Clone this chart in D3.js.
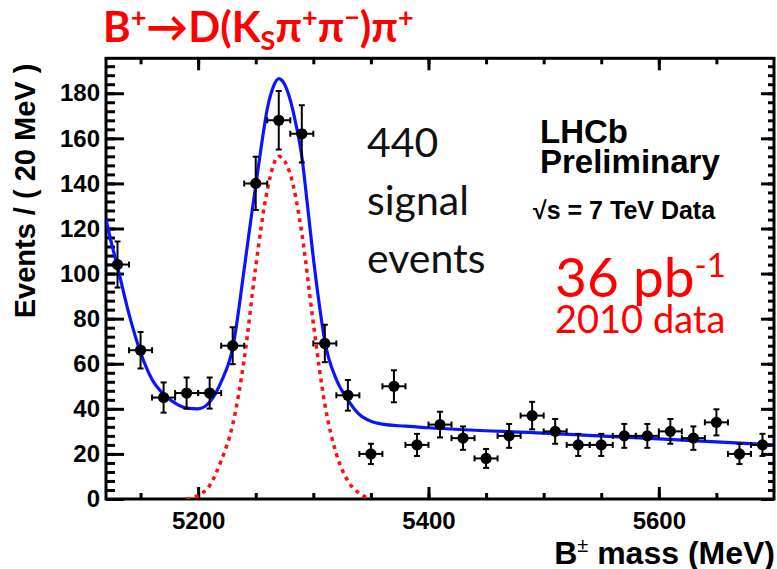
<!DOCTYPE html>
<html>
<head>
<meta charset="utf-8">
<script src="https://cdn.jsdelivr.net/npm/d3@7"></script>
<style>
  body { margin: 0; background: #fff; }
  svg { display: block; }
</style>
</head>
<body>
<script>
// B+ -> D(Ks pi pi) pi mass fit
var massBins = [5130, 5150, 5170, 5190, 5210, 5230, 5250, 5270, 5290, 5310,
                5330, 5350, 5370, 5390, 5410, 5430, 5450, 5470, 5490, 5510,
                5530, 5550, 5570, 5590, 5610, 5630, 5650, 5670, 5690]
var events = [104, 66, 45, 47, 47, 68, 140, 168, 162, 69,
              46, 20, 50, 24, 33, 27, 18, 28, 37, 30,
              24, 24, 28, 28, 30, 27, 34, 20, 24]
var errors = [10.2, 8.1, 6.7, 6.9, 6.9, 8.2, 11.8, 13, 12.7, 8.3,
              6.8, 4.5, 7.1, 4.9, 5.7, 5.2, 4.2, 5.3, 6.1, 5.5,
              4.9, 4.9, 5.3, 5.3, 5.5, 5.2, 5.8, 4.5, 4.9]

// total fit (blue)
var fitMass = [5120, 5125, 5130, 5140, 5150, 5160, 5170, 5180, 5190, 5200,
               5210, 5220, 5230, 5240, 5245, 5250, 5255, 5260, 5265, 5270,
               5275, 5280, 5285, 5290, 5295, 5300, 5305, 5310, 5320, 5330,
               5340, 5350, 5360, 5380, 5400, 5500, 5600, 5700]
var fitTotal = [124, 113, 103, 82, 65, 53, 46.5, 42.5, 40.3, 40,
                43, 52, 67, 102, 121, 139, 157, 173, 182.5, 186.5,
                184, 177, 166, 152, 130, 107, 87, 70, 53, 44,
                37.5, 34.5, 33.2, 32.3, 31.6, 29.2, 26.7, 24]

// signal component (red dotted)
var sigMass = [5190, 5200, 5210, 5220, 5230, 5240, 5250, 5260, 5270, 5280,
               5290, 5300, 5310, 5320, 5330, 5340, 5350]
var sigEvents = [0, 1.5, 6, 17, 33, 62, 103, 137, 152, 144,
                 118, 78, 42, 20, 8, 2.5, 0]

var xTicks = [5200, 5400, 5600]
var yTicks = [0, 20, 40, 60, 80, 100, 120, 140, 160, 180]

var W = 777, H = 569
var pL = 106, pR = 774, pT = 58.3, pB = 499

var x = d3.scaleLinear().domain([5120, 5700]).range([pL, pR])
var y = d3.scaleLinear().domain([0, 195.5]).range([pB, pT])

var xMinor = d3.range(5150, 5700, 50)
var yMinor = d3.range(0, 196, 4)

var svg = d3.select('body').append('svg')
  .attr('width', W).attr('height', H)

var helv = '"Liberation Sans", Arial, sans-serif'
var cal = 'Lato, "Open Sans", sans-serif'

svg.append('clipPath').attr('id', 'plot')
  .append('rect')
  .attr('x', pL).attr('y', pT)
  .attr('width', pR - pL).attr('height', pB - pT)

// axes, ticks pointing inward
function styleAxis(g) {
  g.select('.domain').remove()
  g.selectAll('.tick line').attr('stroke', '#000').attr('stroke-width', 3)
  g.selectAll('.tick text')
    .attr('fill', '#000')
    .style('font-family', helv)
    .style('font-weight', 'bold')
    .style('font-size', '24px')
}

function axis(gen, tr, vals, size, fmt, pad) {
  var a = gen.tickValues(vals).tickSize(-size).tickPadding(pad || 3)
  a.tickFormat(fmt ? d3.format('d') : '')
  svg.append('g').attr('transform', tr).call(a).call(styleAxis)
}

axis(d3.axisLeft(y), 'translate(' + pL + ',0)', yMinor, 9)
axis(d3.axisLeft(y), 'translate(' + pL + ',0)', yTicks, 18, true, 6)
axis(d3.axisRight(y), 'translate(' + pR + ',0)', yMinor, 6)
axis(d3.axisRight(y), 'translate(' + pR + ',0)', yTicks, 13)
axis(d3.axisTop(x), 'translate(0,' + pT + ')', xMinor, 6)
axis(d3.axisTop(x), 'translate(0,' + pT + ')', xTicks, 12)
axis(d3.axisBottom(x), 'translate(0,' + pB + ')', xMinor, 6)
axis(d3.axisBottom(x), 'translate(0,' + pB + ')', xTicks, 12, true, 13)

svg.append('rect')
  .attr('x', pL).attr('y', pT)
  .attr('width', pR - pL).attr('height', pB - pT)
  .attr('fill', 'none').attr('stroke', '#000').attr('stroke-width', 3)

// curves
var plot = svg.append('g').attr('clip-path', 'url(#plot)')

var line = d3.line()
  .x(function(d) { return x(d[0]) })
  .y(function(d) { return y(d[1]) })
  .curve(d3.curveMonotoneX)

plot.append('path')
  .datum(d3.zip(sigMass, sigEvents))
  .attr('d', line)
  .attr('fill', 'none')
  .attr('stroke', '#ff1010')
  .attr('stroke-width', 3.5)
  .attr('stroke-dasharray', '4,4.5')

plot.append('path')
  .datum(d3.zip(fitMass, fitTotal))
  .attr('d', line)
  .attr('fill', 'none')
  .attr('stroke', '#0a14ff')
  .attr('stroke-width', 3.2)

// data points with errors
var pts = plot.selectAll('g.pt')
  .data(d3.zip(massBins, events, errors))
  .enter().append('g').attr('class', 'pt')

pts.each(function(d) {
  var g = d3.select(this)
  var cx = x(d[0]), cy = y(d[1])
  var x0 = x(d[0] - 10), x1 = x(d[0] + 10)
  var y0 = y(d[1] - d[2]), y1 = y(d[1] + d[2])
  var segs = [
    [x0, cy, x1, cy], [cx, y0, cx, y1],
    [x0, cy - 3, x0, cy + 3], [x1, cy - 3, x1, cy + 3],
    [cx - 3, y0, cx + 3, y0], [cx - 3, y1, cx + 3, y1]
  ]
  segs.forEach(function(s) {
    g.append('line')
      .attr('x1', s[0]).attr('y1', s[1]).attr('x2', s[2]).attr('y2', s[3])
      .attr('stroke', '#000').attr('stroke-width', 2)
  })
  g.append('circle').attr('cx', cx).attr('cy', cy).attr('r', 5.6).attr('fill', '#000')
})

// axis titles
svg.append('text')
  .attr('transform', 'translate(35,191) rotate(-90)')
  .attr('text-anchor', 'middle')
  .style('font-family', helv).style('font-weight', 'bold').style('font-size', '29px')
  .text('Events / ( 20 MeV )')

var xl = svg.append('text')
  .attr('x', 775).attr('y', 564)
  .attr('text-anchor', 'end')
  .style('font-family', helv).style('font-weight', 'bold').style('font-size', '32px')
xl.append('tspan').text('B')
xl.append('tspan').attr('dy', -12).style('font-size', '20px').style('font-weight', 'normal').text('\u00b1')
xl.append('tspan').attr('dy', 12).text(' mass  (MeV)')

// title
var t = svg.append('text')
  .attr('x', 103).attr('y', 42)
  .attr('fill', '#ff0000')
  .style('font-family', cal).style('font-weight', 'bold').style('font-size', '42px')
t.append('tspan').text('B')
t.append('tspan').attr('dy', -15).style('font-size', '27px').text('+')
t.append('tspan').attr('dy', 15).text('\u2192D(K')
t.append('tspan').attr('dy', 8).style('font-size', '27px').text('S')
t.append('tspan').attr('dy', -8).text('\u03c0')
t.append('tspan').attr('dy', -15).style('font-size', '27px').text('+')
t.append('tspan').attr('dy', 15).text('\u03c0')
t.append('tspan').attr('dy', -15).style('font-size', '27px').text('\u2212')
t.append('tspan').attr('dy', 15).text(')\u03c0')
t.append('tspan').attr('dy', -15).style('font-size', '27px').text('+')

// annotations
var sig = ['440', 'signal', 'events']
svg.selectAll('text.sig').data(sig).enter().append('text')
  .attr('class', 'sig')
  .attr('x', 367)
  .attr('y', function(d, i) { return 157 + i * 58 })
  .style('font-family', cal).style('font-size', '41px')
  .attr('fill', '#111')
  .text(function(d) { return d })

svg.append('text').attr('x', 540).attr('y', 143)
  .style('font-family', helv).style('font-weight', 'bold').style('font-size', '33px')
  .text('LHCb')
svg.append('text').attr('x', 540).attr('y', 173)
  .style('font-family', helv).style('font-weight', 'bold').style('font-size', '33px')
  .text('Preliminary')
svg.append('text').attr('x', 533).attr('y', 219)
  .style('font-family', helv).style('font-weight', 'bold').style('font-size', '25px')
  .text('\u221as = 7 TeV Data')

var lumi = svg.append('text').attr('x', 555).attr('y', 297)
  .attr('fill', '#ff0000')
  .style('font-family', cal).style('font-size', '55px')
lumi.append('tspan').text('36 pb')
lumi.append('tspan').attr('dy', -20).style('font-size', '33px').text('-1')

svg.append('text').attr('x', 555).attr('y', 333)
  .attr('fill', '#ff0000')
  .style('font-family', cal).style('font-size', '38px')
  .text('2010 data')
</script>
</body>
</html>
